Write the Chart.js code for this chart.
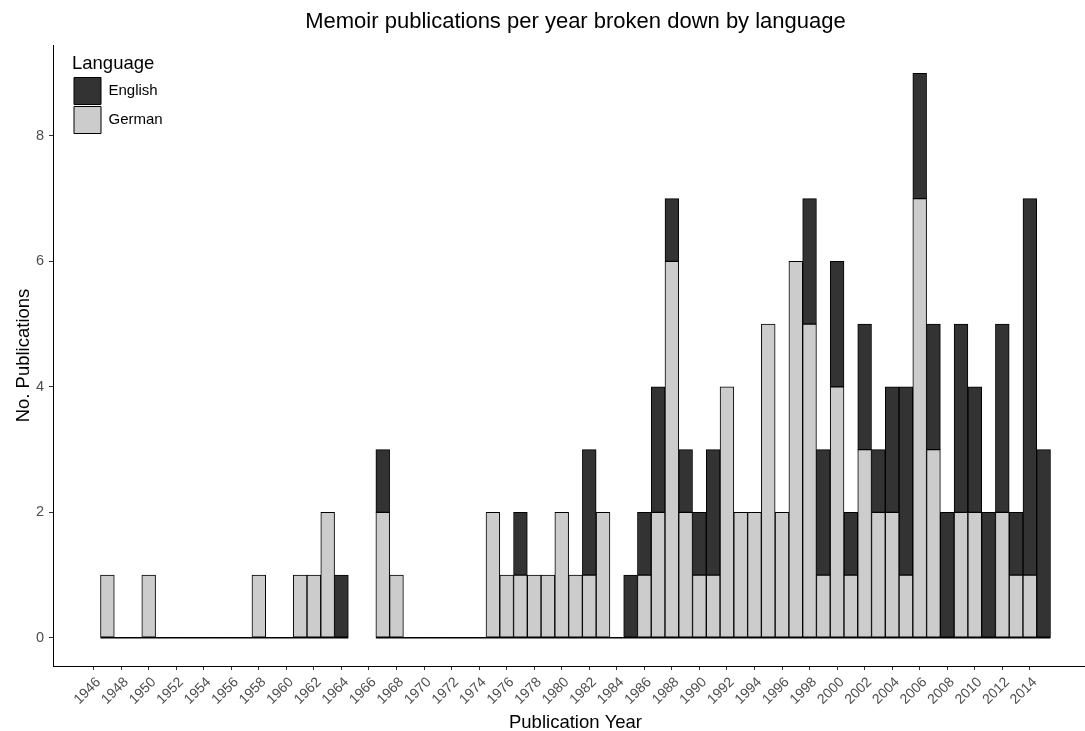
<!DOCTYPE html>
<html>
<head>
<meta charset="utf-8">
<title>Memoir publications per year</title>
<script src="https://cdn.jsdelivr.net/npm/chart.js@4.4.1/dist/chart.umd.min.js"></script>
<style>
  html, body { margin: 0; padding: 0; background: #fff; overflow: hidden; }
  #wrap { width: 1100px; height: 731px; }
</style>
</head>
<body>
<div id="wrap"><canvas id="chart"></canvas></div>
<script>
'use strict'

// one bar per year, 1965 and 1966 are missing from the data
const years = [
  1947, 1948, 1949,
  1950, 1951, 1952, 1953, 1954, 1955, 1956, 1957, 1958, 1959,
  1960, 1961, 1962, 1963, 1964, 1965, 1966, 1967, 1968, 1969,
  1970, 1971, 1972, 1973, 1974, 1975, 1976, 1977, 1978, 1979,
  1980, 1981, 1982, 1983, 1984, 1985, 1986, 1987, 1988, 1989,
  1990, 1991, 1992, 1993, 1994, 1995, 1996, 1997, 1998, 1999,
  2000, 2001, 2002, 2003, 2004, 2005, 2006, 2007, 2008, 2009,
  2010, 2011, 2012, 2013, 2014, 2015
];
const german = [
  1, 0, 0,
  1, 0, 0, 0, 0, 0, 0, 0, 1, 0,
  0, 1, 1, 2, 0, null, null, 2, 1, 0,
  0, 0, 0, 0, 0, 2, 1, 1, 1, 1,
  2, 1, 1, 2, 0, 0, 1, 2, 6, 2,
  1, 1, 4, 2, 2, 5, 2, 6, 5, 1,
  4, 1, 3, 2, 2, 1, 7, 3, 0, 2,
  2, 0, 2, 1, 1, 0
];
const english = [
  0, 0, 0,
  0, 0, 0, 0, 0, 0, 0, 0, 0, 0,
  0, 0, 0, 0, 1, null, null, 1, 0, 0,
  0, 0, 0, 0, 0, 0, 0, 1, 0, 0,
  0, 0, 2, 0, 0, 1, 1, 2, 1, 1,
  1, 2, 0, 0, 0, 0, 0, 0, 2, 2,
  2, 1, 2, 1, 2, 3, 2, 2, 2, 3,
  2, 2, 3, 1, 6, 3
];
const yearTicks = [
  1946, 1948, 1950, 1952, 1954, 1956, 1958, 1960, 1962, 1964, 1966, 1968,
  1970, 1972, 1974, 1976, 1978, 1980, 1982, 1984, 1986, 1988, 1990, 1992,
  1994, 1996, 1998, 2000, 2002, 2004, 2006, 2008, 2010, 2012, 2014
];
const countTicks = [0, 2, 4, 6, 8];

const FONT = "'Liberation Sans', Arial, Helvetica, sans-serif";

// zero-height bars still get an outline in the original, draw that here
const zeroLine = {
  id: 'zeroLine',
  afterDatasetsDraw(chart) {
    const {ctx, scales: {x, y}} = chart;
    const y0 = y.getPixelForValue(0);
    ctx.save();
    ctx.strokeStyle = '#000';
    ctx.lineWidth = 1.5;
    ctx.beginPath();
    years.forEach((yr, i) => {
      if (german[i] === null) return;
      ctx.moveTo(x.getPixelForValue(yr - 0.5), y0);
      ctx.lineTo(x.getPixelForValue(yr + 0.5), y0);
    });
    ctx.stroke();
    ctx.restore();
  }
};

// put the legend inside the panel, top left
const legendInset = {
  id: 'legendInset',
  afterLayout(chart) {
    chart.legend.left = chart.chartArea.left + 19;
    chart.legend.top = chart.chartArea.top + 10;
  }
};

const toPoints = arr => years.map((yr, i) => ({x: yr, y: arr[i]}));

const barStyle = {
  borderColor: '#000',
  borderWidth: 1,
  borderSkipped: false,
  barPercentage: 1,
  categoryPercentage: 1
};

new Chart(document.getElementById('chart'), {
  type: 'bar',
  data: {
    datasets: [
      Object.assign({label: 'German', data: toPoints(german), backgroundColor: '#cccccc'}, barStyle),
      Object.assign({label: 'English', data: toPoints(english), backgroundColor: '#333333'}, barStyle)
    ]
  },
  options: {
    responsive: true,
    maintainAspectRatio: false,
    devicePixelRatio: 1,
    animation: false,
    layout: {padding: {left: 13, right: 2, top: 0, bottom: 0}},
    scales: {
      x: {
        type: 'linear',
        stacked: true,
        offset: false,
        min: 1943.05,
        max: 2018.95,
        afterBuildTicks: axis => { axis.ticks = yearTicks.map(v => ({value: v})); },
        afterFit: axis => { axis.height = 65; },
        ticks: {
          autoSkip: false,
          minRotation: 45,
          maxRotation: 45,
          padding: 4,
          labelOffset: 5,
          color: '#4d4d4d',
          font: {family: FONT, size: 14},
          callback: v => String(v)
        },
        grid: {display: true, offset: false, drawOnChartArea: false, drawTicks: true, tickLength: 4, tickColor: '#333', tickWidth: 1},
        border: {display: true, color: '#000', width: 1},
        title: {display: true, text: 'Publication Year', color: '#000', font: {family: FONT, size: 18.5}, padding: {top: 0, bottom: -3}}
      },
      y: {
        stacked: true,
        min: -0.45,
        max: 9.45,
        afterBuildTicks: axis => { axis.ticks = countTicks.map(v => ({value: v})); },
        afterFit: axis => { axis.width = 40; },
        ticks: {
          padding: 5,
          color: '#4d4d4d',
          font: {family: FONT, size: 14.5},
          callback: v => String(v)
        },
        grid: {display: true, drawOnChartArea: false, drawTicks: true, tickLength: 4, tickColor: '#333', tickWidth: 1},
        border: {display: true, color: '#000', width: 1},
        title: {display: true, text: 'No. Publications', color: '#000', font: {family: FONT, size: 18.5}, padding: {top: 0, bottom: 0}}
      }
    },
    plugins: {
      title: {
        display: true,
        fullSize: false,
        text: 'Memoir publications per year broken down by language',
        color: '#000',
        font: {family: FONT, size: 22, weight: 'normal'},
        padding: {top: 9, bottom: 9.6}
      },
      legend: {
        position: 'chartArea',
        align: 'start',
        reverse: true,
        title: {display: true, text: 'Language', position: 'start', color: '#000', font: {family: FONT, size: 18.5, lineHeight: 1}, padding: {top: 0, bottom: 2}},
        labels: {boxWidth: 27, boxHeight: 27, padding: 2, color: '#000', font: {family: FONT, size: 15}}
      },
      tooltip: {enabled: false}
    }
  },
  plugins: [zeroLine, legendInset]
});
</script>
</body>
</html>
